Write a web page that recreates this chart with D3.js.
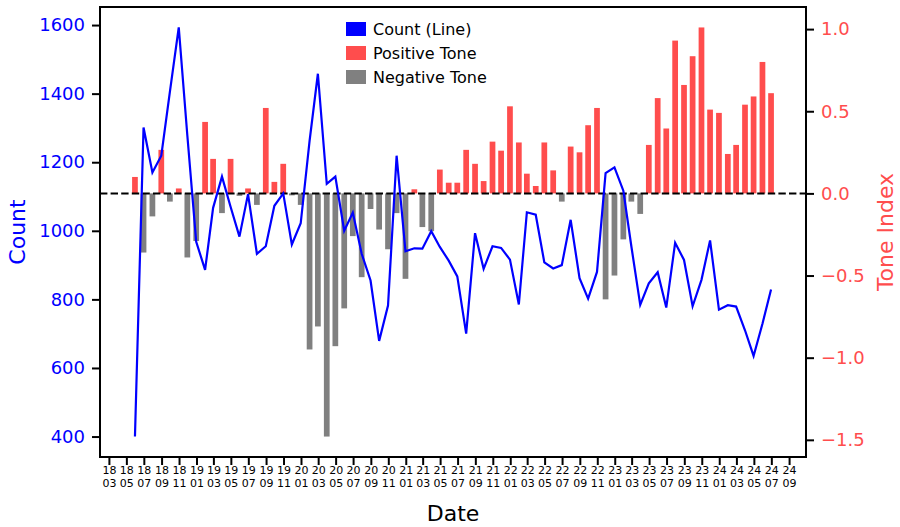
<!DOCTYPE html>
<html>
<head>
<meta charset="utf-8">
<script src="https://cdn.jsdelivr.net/npm/d3@7"></script>
<style>
  body { margin: 0; background: #fff; }
  svg { font-family: "DejaVu Sans", sans-serif; }
</style>
</head>
<body>
<svg id="chart" width="900" height="527"></svg>
<script>
// months (value is for the month, plotted at month end)
const months = [
  "2018-05","2018-06","2018-07","2018-08","2018-09","2018-10","2018-11","2018-12",
  "2019-01","2019-02","2019-03","2019-04","2019-05","2019-06","2019-07","2019-08","2019-09","2019-10","2019-11","2019-12",
  "2020-01","2020-02","2020-03","2020-04","2020-05","2020-06","2020-07","2020-08","2020-09","2020-10","2020-11","2020-12",
  "2021-01","2021-02","2021-03","2021-04","2021-05","2021-06","2021-07","2021-08","2021-09","2021-10","2021-11","2021-12",
  "2022-01","2022-02","2022-03","2022-04","2022-05","2022-06","2022-07","2022-08","2022-09","2022-10","2022-11","2022-12",
  "2023-01","2023-02","2023-03","2023-04","2023-05","2023-06","2023-07","2023-08","2023-09","2023-10","2023-11","2023-12",
  "2024-01","2024-02","2024-03","2024-04","2024-05","2024-06"
];

const counts = [
  400, 1301, 1170, 1219, 1405, 1593, 1278, 968, 886, 1067, 1158, 1070,
  983, 1107, 933, 955, 1073, 1109, 960, 1022, 1262, 1458, 1137, 1158,
  1000, 1053, 933, 855, 679, 782, 1219, 940, 949, 948, 999, 953,
  913, 867, 700, 993, 889, 955, 950, 916, 785, 1054, 1047, 908,
  890, 900, 1032, 862, 802, 880, 1168, 1185, 1117, 955, 784, 847,
  879, 776, 965, 915, 780, 857, 972, 770, 783, 779, 710, 635,
  729, 829
];

const tone = [
  0.10, -0.36, -0.14, 0.265, -0.05, 0.03, -0.39, -0.29, 0.435, 0.21, -0.12, 0.21,
  -0.015, 0.03, -0.07, 0.52, 0.07, 0.18, -0.012, -0.07, -0.95, -0.81, -1.48, -0.93,
  -0.70, -0.26, -0.51, -0.095, -0.22, -0.34, -0.12, -0.52, 0.025, -0.205, -0.23, 0.145,
  0.065, 0.065, 0.265, 0.18, 0.075, 0.315, 0.26, 0.53, 0.31, 0.12, 0.045, 0.31,
  0.14, -0.05, 0.285, 0.25, 0.415, 0.52, -0.645, -0.50, -0.28, -0.05, -0.125, 0.295,
  0.58, 0.395, 0.93, 0.66, 0.835, 1.01, 0.51, 0.49, 0.24, 0.295, 0.54, 0.59,
  0.80, 0.61
];

const legendItems = ["Count (Line)", "Positive Tone", "Negative Tone"];

const blue = "#0000ff";
const posColor = "#ff4d4d";
const negColor = "#808080";

const width = 900, height = 527;
const margin = { left: 100, right: 94, top: 7, bottom: 70 };
const innerW = width - margin.left - margin.right;
const innerH = height - margin.top - margin.bottom;

const parseMonth = d3.utcParse("%Y-%m");
const monthEnd = s => d3.utcDay.offset(d3.utcMonth.offset(parseMonth(s), 1), -1);

const data = months.map((m, i) => ({ date: monthEnd(m), count: counts[i], tone: tone[i] }));

const svg = d3.select("#chart");
const g = svg.append("g").attr("transform", "translate(" + margin.left + "," + margin.top + ")");

// x: time axis, bars 20 days wide, 5% padding like matplotlib
const barDays = 20;
const first = d3.utcDay.offset(data[0].date, -barDays / 2);
const last = d3.utcDay.offset(data[data.length - 1].date, barDays / 2);
const span = last - first;
const x = d3.scaleUtc()
  .domain([new Date(+first - span * 0.05), new Date(+last + span * 0.05)])
  .range([0, innerW]);

function padded(ext) {
  const p = (ext[1] - ext[0]) * 0.05;
  return [ext[0] - p, ext[1] + p];
}
const yL = d3.scaleLinear().domain(padded(d3.extent(counts))).range([innerH, 0]);
const yR = d3.scaleLinear().domain(padded(d3.extent(tone))).range([innerH, 0]);

// bars
g.append("g").selectAll("rect")
  .data(data)
  .enter()
  .append("rect")
  .attr("x", d => x(d3.utcDay.offset(d.date, -barDays / 2)))
  .attr("width", d => x(d3.utcDay.offset(d.date, barDays / 2)) - x(d3.utcDay.offset(d.date, -barDays / 2)))
  .attr("y", d => yR(Math.max(0, d.tone)))
  .attr("height", d => Math.abs(yR(d.tone) - yR(0)))
  .attr("fill", d => d.tone >= 0 ? posColor : negColor);

// zero line
g.append("line")
  .attr("x1", 0).attr("x2", innerW)
  .attr("y1", yR(0)).attr("y2", yR(0))
  .attr("stroke", "#000")
  .attr("stroke-width", 2)
  .attr("stroke-dasharray", "7.4,3.2");

// count line
const line = d3.line().x(d => x(d.date)).y(d => yL(d.count));
g.append("path")
  .datum(data)
  .attr("d", line)
  .attr("fill", "none")
  .attr("stroke", blue)
  .attr("stroke-width", 2.2)
  .attr("stroke-linejoin", "miter");

// axes
const xAxis = g.append("g")
  .attr("transform", "translate(0," + innerH + ")")
  .call(d3.axisBottom(x).ticks(d3.utcMonth.every(2)).tickSize(8).tickFormat(""));

xAxis.selectAll(".tick").each(function(d) {
  const t = d3.select(this).append("text")
    .attr("fill", "#000")
    .attr("text-anchor", "middle")
    .style("font-size", "11px");
  t.append("tspan").attr("x", 0).attr("y", 17).text(d3.utcFormat("%y")(d));
  t.append("tspan").attr("x", 0).attr("y", 30).text(d3.utcFormat("%m")(d));
});

const leftAxis = g.append("g")
  .call(d3.axisLeft(yL).tickValues([400, 600, 800, 1000, 1200, 1400, 1600]).tickFormat(d3.format("d")).tickSize(8).tickPadding(7));
leftAxis.selectAll("text").attr("fill", blue).style("font-size", "18px");

const rightAxis = g.append("g")
  .attr("transform", "translate(" + innerW + ",0)")
  .call(d3.axisRight(yR).tickValues([-1.5, -1.0, -0.5, 0, 0.5, 1.0]).tickFormat(d3.format(".1f")).tickSize(8).tickPadding(7));
rightAxis.selectAll("text").attr("fill", posColor).style("font-size", "18px");

[xAxis, leftAxis, rightAxis].forEach(a => {
  a.select(".domain").remove();
  a.selectAll("line").attr("stroke", "#000").attr("stroke-width", 2);
  a.attr("font-family", null);
});

// frame
g.append("rect")
  .attr("width", innerW).attr("height", innerH)
  .attr("fill", "none")
  .attr("stroke", "#000")
  .attr("stroke-width", 2);

// axis labels
svg.append("text")
  .attr("transform", "translate(25," + (margin.top + innerH / 2) + ") rotate(-90)")
  .attr("text-anchor", "middle")
  .attr("fill", blue)
  .style("font-size", "22px")
  .text("Count");

svg.append("text")
  .attr("transform", "translate(877," + (margin.top + innerH / 2) + ") rotate(-90)")
  .attr("text-anchor", "middle")
  .attr("dy", "0.73em")
  .attr("fill", posColor)
  .style("font-size", "22px")
  .text("Tone Index");

svg.append("text")
  .attr("x", margin.left + innerW / 2)
  .attr("y", 521)
  .attr("text-anchor", "middle")
  .style("font-size", "22px")
  .text("Date");

// legend
const legend = svg.append("g").attr("transform", "translate(346,22)");
const legendColors = [blue, posColor, negColor];
legendItems.forEach((name, i) => {
  legend.append("rect")
    .attr("x", 0).attr("y", i * 24)
    .attr("width", 20).attr("height", 14)
    .attr("fill", legendColors[i]);
  legend.append("text")
    .attr("x", 27).attr("y", i * 24 + 7)
    .attr("dy", "0.36em")
    .style("font-size", "16px")
    .text(name);
});
</script>
</body>
</html>
